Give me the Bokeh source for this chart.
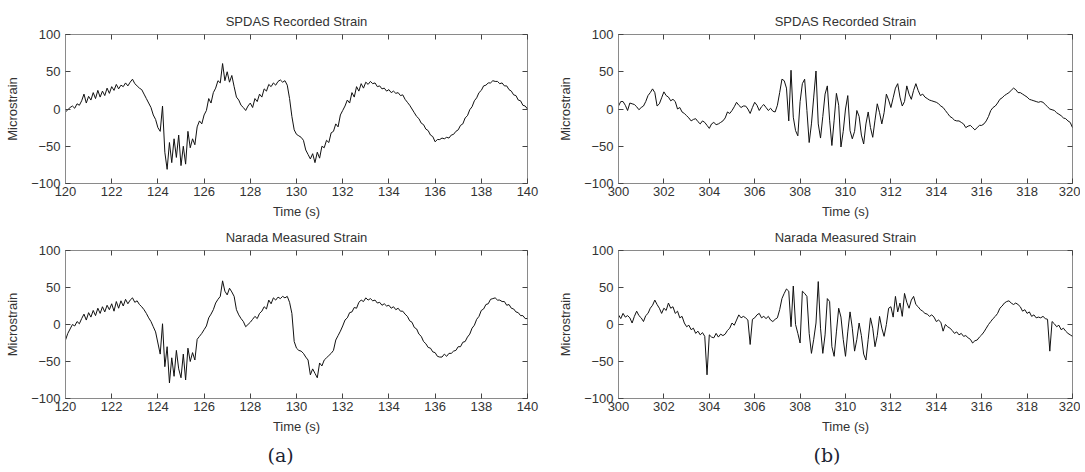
import numpy as np
from bokeh.plotting import figure
from bokeh.models import Range1d, FixedTicker, LinearAxis, Title
from bokeh.layouts import column, row
from bokeh.embed import file_html
from bokeh.resources import INLINE

# ---------------- data ----------------
dt = 0.1
t0_a = 120.0
t0_b = 300.0

spdas_a = [
    -4, -1, 2, 4, 1, 7, 5, 11, 20, 8,
    17, 12, 22, 14, 25, 16, 24, 18, 28, 21,
    30, 25, 33, 27, 32, 30, 35, 31, 36, 40,
    34, 31, 28, 26, 20, 14, 8, 2, -8, -14,
    -25, -30, 4, -58, -81, -45, -72, -40, -65, -35,
    -76, -50, -74, -30, -52, -40, -48, -24, -16, -20,
    -8, -2, 14, 8, 22, 28, 38, 35, 61, 38,
    50, 36, 45, 30, 16, 12, 5, 2, -2, 4,
    8, 2, 14, 10, 20, 16, 27, 24, 33, 30,
    35, 32, 37, 39, 36, 38, 32, 14, -10, -28,
    -34, -36, -38, -42, -55, -61, -67, -60, -72, -58,
    -66, -50, -52, -42, -45, -32, -30, -20, -24, -8,
    -2, 4, 12, 8, 22, 16, 30, 24, 34, 28,
    36, 33, 37, 34, 35, 30, 31, 27, 28, 24,
    26, 22, 24, 21, 22, 18, 19, 13, 9, 5,
    0, -5, -10, -13, -19, -21, -27, -29, -35, -37,
    -44, -41, -41, -39, -40, -38, -39, -35, -34, -30,
    -28, -22, -20, -12, -9, -1, 3, 11, 15, 22,
    25, 31, 32, 35, 35, 38, 37, 37, 34, 35,
    31, 31, 26, 24, 19, 18, 12, 11, 5, 4,
    0,
]

narada_a = [
    -21, -12, -6, 0, -2, 4, 1, 8, 14, 6,
    16, 10, 19, 12, 22, 15, 24, 17, 26, 20,
    28, 18, 31, 22, 32, 25, 34, 28, 33, 36,
    30, 32, 27, 24, 20, 15, 9, 4, -3, -10,
    -25, -40, 1, -57, -30, -79, -45, -70, -35, -60,
    -72, -40, -75, -32, -50, -38, -48, -20, -16, -12,
    -7, -2, 9, 14, 20, 29, 34, 38, 59, 45,
    40, 49, 44, 38, 20, 13, 8, 4, -3, 0,
    3, 7, 11, 8, 15, 18, 24, 21, 33, 28,
    36, 33, 37, 35, 38, 36, 38, 30, 15, -23,
    -32, -35, -36, -39, -44, -48, -68, -60, -66, -72,
    -52, -56, -48, -45, -42, -39, -35, -21, -15, -9,
    -2, 6, 9, 16, 17, 23, 22, 30, 33, 31,
    36, 33, 35, 32, 33, 29, 30, 26, 28, 25,
    26, 22, 24, 20, 22, 18, 18, 14, 11, 5,
    3, -4, -6, -13, -16, -23, -26, -31, -32, -37,
    -38, -43, -44, -44, -40, -43, -39, -39, -36, -35,
    -30, -30, -24, -23, -17, -13, -5, -1, 7, 11,
    19, 21, 27, 28, 34, 35, 36, 33, 33, 31,
    31, 26, 27, 22, 21, 17, 16, 12, 12, 8,
    8,
]

spdas_b = [
    4, 10, 10, 5, -2, 8, 7, 6, 3, -1,
    2, 4, 10, 18, 22, 27, 22, 4, 7, 15,
    23, 18, 16, 11, 13, 10, 0, 2, -4, -6,
    -9, -12, -16, -14, -13, -17, -20, -16, -18, -22,
    -26, -20, -18, -21, -20, -18, -16, -12, -4, -6,
    -2, 3, 9, 5, 2, 4, 4, 0, -6, 2,
    9, 5, -2, 3, 6, 2, -2, 1, -3, -4,
    5, 22, 40, 38, 28, -16, 52, -11, -29, -36,
    10, 34, 40, -2, -45, -20, 16, 51, -20, -39,
    -10, 20, 31, -15, -49, -15, 21, 5, -51, -30,
    0, 18, -29, -40, -30, -2, -10, -35, -47, -20,
    -4, -25, -38, -15, 7, -5, -20, -5, 20, 12,
    2, 15, 28, 34, 16, 4, 10, 31, 20, 13,
    25, 34, 25, 18, 20, 16, 14, 12, 11, 10,
    9, 7, 4, 2, -2, -6, -10, -12, -15, -16,
    -16, -18, -20, -25, -23, -22, -25, -28, -25, -22,
    -22, -20, -16, -10, -2, 2, 4, 8, 13, 15,
    18, 20, 22, 25, 28, 26, 22, 22, 20, 18,
    16, 13, 12, 11, 10, 9, 10, 9, 6, 3,
    0, -1, -2, -5, -7, -9, -12, -13, -16, -18,
    -25,
]

narada_b = [
    13, 8, 15, 10, 12, 9, 2, 11, 18, 12,
    9, 4, 12, 15, 22, 26, 33, 27, 22, 15,
    22, 19, 29, 22, 24, 15, 18, 9, 11, 2,
    -3, -1, -7, -5, -12, -9, -14, -11, -16, -68,
    -14, -17, -18, -12, -17, -13, -15, -13, -8, -5,
    2, -1, 6, 13, 9, 11, 9, 6, -27, 7,
    9, 13, 15, 9, 11, 8, 11, 6, 4, 7,
    9, 20, 35, 42, 48, 45, -3, 52, 0, -12,
    -25, 45, 42, 38, -12, -39, -20, 2, 58, -5,
    -39, -14, 35, 31, -30, -43, -10, 22, 10, -20,
    -43, -10, 17, -5, -36, -20, 2, -15, -40, -48,
    -20, 9, -5, -30, -15, 11, -5, -16, 0, 22,
    24, 10, 38, 17, 29, 11, 42, 30, 22, 33,
    38, 27, 24, 20, 18, 15, 14, 11, 13, 10,
    4, 6, 3, -9, 0, -3, -5, -8, -12, -10,
    -14, -12, -16, -15, -18, -20, -25, -22, -21, -17,
    -14, -10, -5, 0, 4, 8, 11, 15, 22, 25,
    29, 31, 32, 29, 27, 29, 27, 24, 18, 20,
    15, 17, 11, 13, 9, 10, 9, 11, 8, 7,
    -36, 4, 1, -3, -1, -7, -5, -9, -12, -14,
    -16,
]

titles = ["SPDAS Recorded Strain", "Narada Measured Strain"]
x_ticks_a = [120, 122, 124, 126, 128, 130, 132, 134, 136, 138, 140]
x_ticks_b = [300, 302, 304, 306, 308, 310, 312, 314, 316, 318, 320]
y_ticks = [-100, -50, 0, 50, 100]
panel_tags = ["(a)", "(b)"]
x_label = "Time (s)"
y_label = "Microstrain"

# ---------------- styling ----------------
FONT = "Liberation Sans"
TXT = "#333333"
GRAYLINE = "#8a8a8a"


def style_axis(ax, ticks):
    ax.ticker = FixedTicker(ticks=ticks)
    ax.axis_line_color = GRAYLINE
    ax.major_tick_in = 5
    ax.major_tick_out = 0
    ax.minor_tick_in = 0
    ax.minor_tick_out = 0
    ax.major_tick_line_color = "#444444"
    ax.major_label_text_font = FONT
    ax.major_label_text_font_size = "13px"
    ax.major_label_text_color = TXT
    ax.axis_label_text_font = FONT
    ax.axis_label_text_font_size = "13px"
    ax.axis_label_text_font_style = "normal"
    ax.axis_label_text_color = TXT


def mirror_axis(ticks):
    return LinearAxis(ticker=FixedTicker(ticks=ticks),
                      major_label_text_font_size="1px",
                      major_label_text_color=None,
                      major_label_standoff=0,
                      axis_line_color=None,
                      major_tick_in=5, major_tick_out=0,
                      minor_tick_in=0, minor_tick_out=0,
                      major_tick_line_color="#444444")


def make_panel(t0, vals, title, xticks, width, height, bl, br, bt, bb, tag=None, tag_x=0):
    t = t0 + dt * np.arange(len(vals))
    p = figure(width=width, height=height, output_backend="svg", toolbar_location=None,
               x_range=Range1d(xticks[0], xticks[-1]), y_range=Range1d(-100, 100),
               min_border_left=bl, min_border_right=br, min_border_top=bt, min_border_bottom=bb,
               title=title)
    p.line(t, vals, line_color="#111111", line_width=1)
    p.grid.visible = False
    p.outline_line_color = GRAYLINE
    p.outline_line_width = 1
    p.title.align = "center"
    p.title.text_font = FONT
    p.title.text_font_size = "13px"
    p.title.text_font_style = "normal"
    p.title.text_color = TXT
    p.title.standoff = 11

    style_axis(p.xaxis[0], xticks)
    p.xaxis[0].axis_label = x_label
    p.xaxis[0].major_label_standoff = 3
    p.xaxis[0].axis_label_standoff = 5
    style_axis(p.yaxis[0], y_ticks)
    p.yaxis[0].axis_label = y_label
    p.yaxis[0].major_label_standoff = 5
    p.yaxis[0].axis_label_standoff = 8

    p.add_layout(mirror_axis(xticks), "above")
    p.add_layout(mirror_axis(y_ticks), "right")

    if tag is not None:
        p.add_layout(Title(text=tag, align="left", offset=tag_x, standoff=10,
                           text_font="DejaVu Serif", text_font_size="19px",
                           text_font_style="normal", text_color="#1c2433"), "below")
    return p


p1 = make_panel(t0_a, spdas_a, titles[0], x_ticks_a, 555, 222, 65, 28, 34, 39)
p2 = make_panel(t0_b, spdas_b, titles[0], x_ticks_b, 525, 222, 58, 8, 34, 39)
p3 = make_panel(t0_a, narada_a, titles[1], x_ticks_a, 555, 248, 65, 28, 27, 72,
                tag=panel_tags[0], tag_x=202)
p4 = make_panel(t0_b, narada_b, titles[1], x_ticks_b, 525, 248, 58, 8, 27, 72,
                tag=panel_tags[1], tag_x=195)

layout = column(row(p1, p2), row(p3, p4))

with open("out.html", "w") as f:
    f.write(file_html(layout, INLINE))
